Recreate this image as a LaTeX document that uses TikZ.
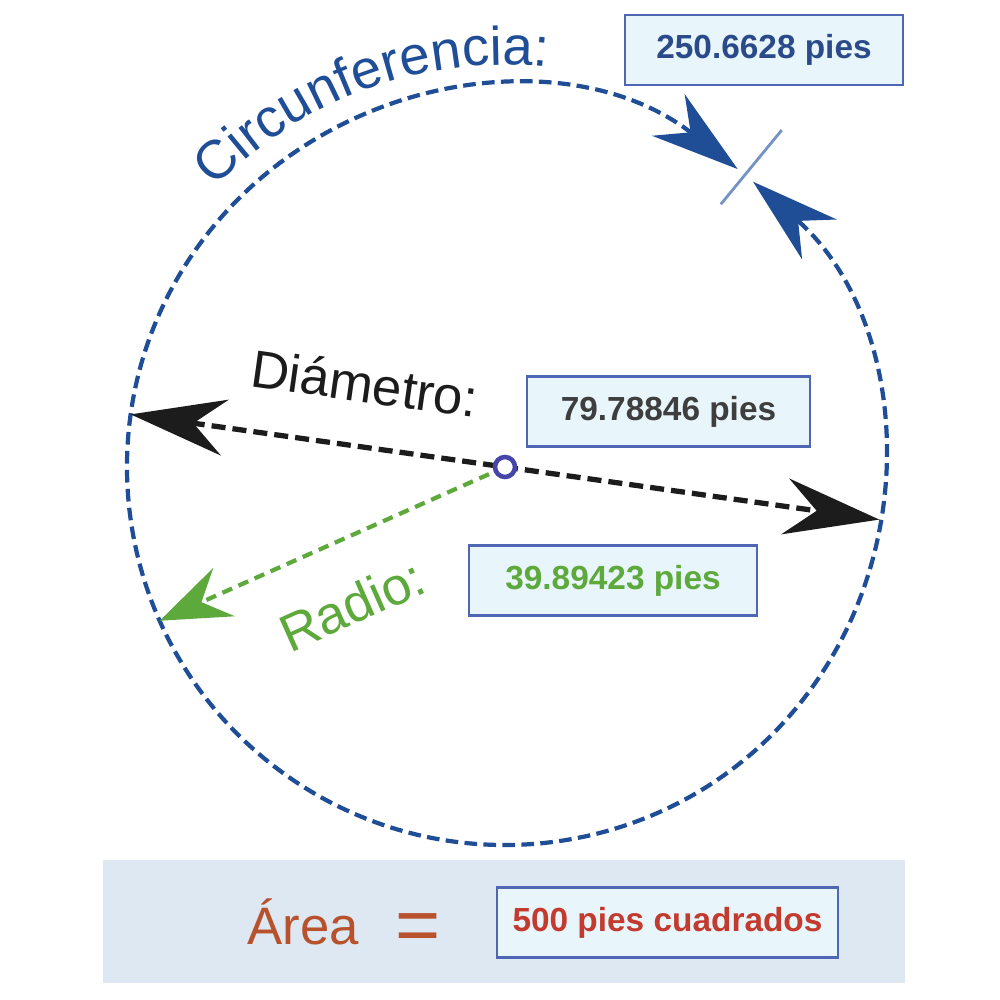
\documentclass[tikz,border=0pt]{standalone}
\usepackage{fontspec}
\setmainfont{Liberation Sans}
\usetikzlibrary{arrows.meta,decorations.text}

\definecolor{circblue}{HTML}{1F4E96}
\definecolor{ticklight}{HTML}{7393C4}
\definecolor{boxfill}{HTML}{E8F6FB}
\definecolor{boxline}{HTML}{4F66B5}
\definecolor{diamblack}{HTML}{1C1C1C}
\definecolor{radgreen}{HTML}{5DA93C}
\definecolor{markblue}{HTML}{4646AA}
\definecolor{bandfill}{HTML}{DEE8F3}
\definecolor{areared}{HTML}{B8522C}
\definecolor{valred}{HTML}{C33A2E}
\definecolor{valblue}{HTML}{2A4A8A}

\tikzset{
    valbox/.style={draw=boxline, fill=boxfill, line width=0.7pt, minimum height=0.7cm,
        font=\fontsize{9.5}{11}\selectfont\bfseries},
    bigtext/.style={font=\fontsize{15}{18}\selectfont},
    circline/.style={circblue, line width=1.2pt, dash pattern=on 3.6pt off 1.8pt},
    diamline/.style={diamblack, line width=1.5pt, dash pattern=on 4pt off 2pt},
    radline/.style={radgreen, line width=1.2pt, dash pattern=on 3pt off 2pt},
}

\begin{document}
\begin{tikzpicture}
\useasboundingbox (-5.05,-5.33) rectangle (4.95,4.67);

\coordinate (ctr) at (0,0);
\coordinate (dleft) at (172:3.78);
\coordinate (dright) at (-8:3.78);
\coordinate (rend) at (204:3.78);

% circle with the gap
\draw[circline, {Stealth[length=25pt,width=15pt,inset=8pt]}-{Stealth[length=25pt,width=15pt,inset=8pt]}]
    (52:3.78) arc[start angle=52, end angle=409, radius=3.78];
\draw[ticklight, line width=0.8pt] (50.6:3.40) -- (50.6:4.36);

\path[decorate, decoration={text along path, text align=center,
    text={|\fontsize{15.5}{18}\selectfont\color{circblue}|Circunferencia:}}]
    (140:4.02) arc[start angle=140, end angle=80, radius=4.02];

\draw[radline, -{Stealth[length=20pt,width=15pt,inset=7pt]}] (ctr) -- (rend);
\draw[diamline, {Stealth[length=27pt,width=16pt,inset=9pt]}-{Stealth[length=27pt,width=16pt,inset=9pt]}]
    (dleft) -- (dright);
\node (mark) at (ctr) [circle, draw=markblue, line width=1.3pt, fill=white, inner sep=0pt, minimum size=0.2cm] {};

\node (diamlab) at (-1.40,0.84) [bigtext, text=diamblack, rotate=-8] {Diámetro:};
\node (radlab) at (-1.53,-1.38) [bigtext, text=radgreen, rotate=24] {Radio:};

\node (circval) at (2.59,4.17) [valbox, minimum width=2.78cm, text=valblue] {250.6628 pies};
\node (diamval) at (1.635,0.555) [valbox, minimum width=2.83cm, text=diamblack!85] {79.78846 pies};
\node (radval) at (1.08,-1.135) [valbox, minimum width=2.88cm, text=radgreen] {39.89423 pies};

% area band
\fill[bandfill] (-4.02,-3.93) rectangle (4.00,-5.16);
\node (areaval) at (1.625,-4.555) [valbox, minimum width=3.41cm, text=valred] {500 pies cuadrados};
\node (arealab) at (-2.02,-4.55) [bigtext, text=areared] {Área};
\node (eq) at (-0.87,-4.66) [font=\fontsize{22}{24}\selectfont, text=areared] {=};
\end{tikzpicture}
\end{document}
